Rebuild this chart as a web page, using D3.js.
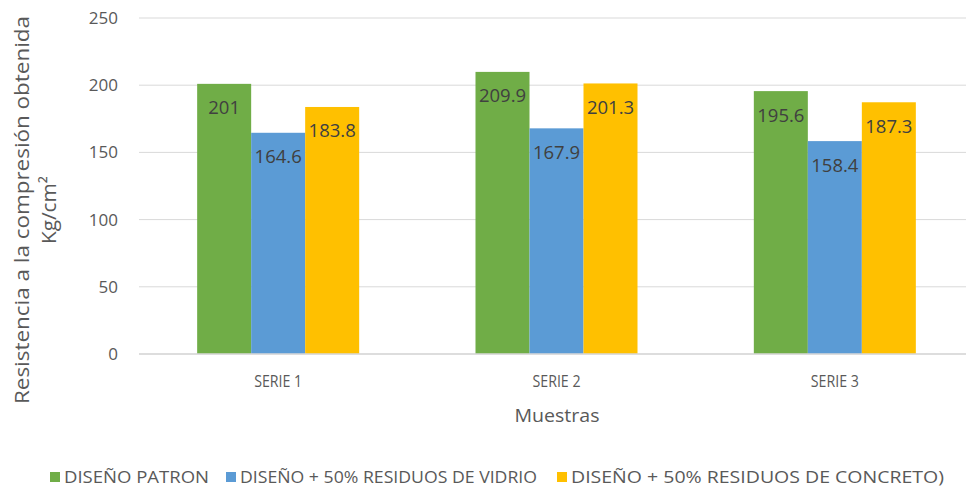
<!DOCTYPE html>
<html>
<head>
<meta charset="utf-8">
<script src="https://cdn.jsdelivr.net/npm/d3@7"></script>
<style>
  body { margin: 0; background: white; }
  text { font-family: "Open Sans", "Noto Sans", sans-serif; }
</style>
</head>
<body>
<div id="wrapper"></div>
<script>
const categories = ["SERIE 1", "SERIE 2", "SERIE 3"];
const seriesNames = ["DISEÑO PATRON", "DISEÑO + 50% RESIDUOS DE VIDRIO", "DISEÑO + 50% RESIDUOS DE CONCRETO)"];
const patron = [201, 209.9, 195.6];
const vidrio = [164.6, 167.9, 158.4];
const concreto = [183.8, 201.3, 187.3];
const yTicks = [0, 50, 100, 150, 200, 250];
const colors = ["#70ad47", "#5b9bd5", "#ffc000"];

function create(){
    const dimension = {
        width: 966,
        height: 489,
        margin: { top: 18, right: -8, bottom: 135, left: 139 }
    };
    dimension.boundedWidth  = dimension.width  - dimension.margin.left - dimension.margin.right;
    dimension.boundedHeight = dimension.height - dimension.margin.top  - dimension.margin.bottom;

    const svg = d3.select("#wrapper")
        .append("svg")
        .attr("width", dimension.width)
        .attr("height", dimension.height);

    const g = svg.append("g")
        .attr("transform", "translate(" + dimension.margin.left + "," + dimension.margin.top + ")");

    const series = [patron, vidrio, concreto];
    const data = [];
    categories.forEach((c, i) => {
        series.forEach((s, j) => data.push({cat: c, key: j, value: s[i]}));
    });

    const x = d3.scaleBand()
        .domain(categories)
        .range([0, dimension.boundedWidth]);

    const xInner = d3.scaleBand()
        .domain([0, 1, 2])
        .range([0, x.bandwidth()])
        .paddingOuter(1.077);

    const y = d3.scaleLinear()
        .domain([0, 250])
        .range([dimension.boundedHeight, 0]);

    // gridlines
    g.append("g")
        .selectAll("line")
        .data(yTicks)
        .enter()
        .append("line")
        .attr("x1", 0)
        .attr("x2", dimension.boundedWidth)
        .attr("y1", d => y(d))
        .attr("y2", d => y(d))
        .attr("stroke", "#d9d9d9")
        .attr("stroke-width", 1);

    // y tick labels
    g.append("g")
        .selectAll("text")
        .data(yTicks)
        .enter()
        .append("text")
        .attr("x", -21)
        .attr("y", d => y(d))
        .attr("dy", "0.35em")
        .attr("text-anchor", "end")
        .attr("fill", "#595959")
        .style("font-size", "17px")
        .text(d => d);

    // bars
    g.append("g")
        .selectAll("rect")
        .data(data)
        .enter()
        .append("rect")
        .attr("x", d => x(d.cat) + xInner(d.key))
        .attr("y", d => y(d.value))
        .attr("width", xInner.bandwidth())
        .attr("height", d => y(0) - y(d.value))
        .attr("fill", d => colors[d.key]);

    // value labels
    g.append("g")
        .selectAll("text")
        .data(data)
        .enter()
        .append("text")
        .attr("x", d => x(d.cat) + xInner(d.key) + xInner.bandwidth() / 2)
        .attr("y", d => y(d.value) + 24)
        .attr("dy", "0.35em")
        .attr("text-anchor", "middle")
        .attr("fill", "#404040")
        .style("font-size", "18.5px")
        .text(d => d.value);

    // baseline
    g.append("line")
        .attr("x1", 0)
        .attr("x2", dimension.boundedWidth)
        .attr("y1", y(0))
        .attr("y2", y(0))
        .attr("stroke", "#d9d9d9")
        .attr("stroke-width", 1.5);

    // x category labels
    g.append("g")
        .selectAll("text")
        .data(categories)
        .enter()
        .append("text")
        .attr("x", d => x(d) + x.bandwidth() / 2)
        .attr("y", y(0) + 27)
        .attr("dy", "0.35em")
        .attr("text-anchor", "middle")
        .attr("fill", "#595959")
        .style("font-size", "16px")
        .attr("textLength", 48)
        .attr("lengthAdjust", "spacingAndGlyphs")
        .text(d => d);

    // x axis title
    svg.append("text")
        .attr("x", 557)
        .attr("y", 415)
        .attr("dy", "0.35em")
        .attr("text-anchor", "middle")
        .attr("fill", "#595959")
        .style("font-size", "19px")
        .attr("textLength", 85)
        .attr("lengthAdjust", "spacingAndGlyphs")
        .text("Muestras");

    // y axis title (two lines)
    const yt = svg.append("text")
        .attr("transform", "translate(22,210) rotate(-90)")
        .attr("text-anchor", "middle")
        .attr("fill", "#595959")
        .style("font-size", "20px");
    yt.append("tspan")
        .attr("x", 0)
        .attr("dy", "0.35em")
        .attr("textLength", 388)
        .attr("lengthAdjust", "spacingAndGlyphs")
        .text("Resistencia a la compresión obtenida");
    yt.append("tspan")
        .attr("x", 0)
        .attr("dy", "27")
        .attr("textLength", 68)
        .attr("lengthAdjust", "spacingAndGlyphs")
        .text("Kg/cm²");

    // legend
    const legendX = [50, 226, 557];
    const legendW = [145, 297, 373];
    const legend = svg.append("g")
        .selectAll("g")
        .data(seriesNames)
        .enter()
        .append("g")
        .attr("transform", (d, i) => "translate(" + legendX[i] + ",477)");
    legend.append("rect")
        .attr("x", 0)
        .attr("y", -5)
        .attr("width", 10)
        .attr("height", 10)
        .attr("fill", (d, i) => colors[i]);
    legend.append("text")
        .attr("x", 14)
        .attr("y", 0)
        .attr("dy", "0.35em")
        .attr("fill", "#595959")
        .style("font-size", "16px")
        .attr("textLength", (d, i) => legendW[i])
        .attr("lengthAdjust", "spacingAndGlyphs")
        .text(d => d);
}
create();
</script>
</body>
</html>
